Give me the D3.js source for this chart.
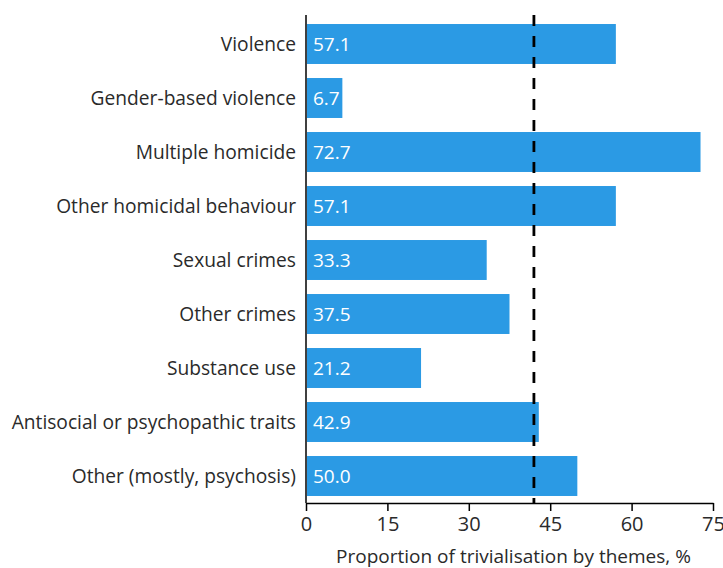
<!DOCTYPE html>
<html><head><meta charset="utf-8">
<script src="https://cdn.jsdelivr.net/npm/d3@7"></script>
<style>body{margin:0;background:#fff}svg{display:block}</style>
</head><body><svg id="c" width="723" height="568"></svg>
<script>
const categories = ["Violence","Gender-based violence","Multiple homicide","Other homicidal behaviour","Sexual crimes","Other crimes","Substance use","Antisocial or psychopathic traits","Other (mostly, psychosis)"];
const values = [57.1, 6.7, 72.7, 57.1, 33.3, 37.5, 21.2, 42.9, 50.0];
const referenceValue = 42.0;
const xTicks = [0, 15, 30, 45, 60, 75];
const xTitle = "Proportion of trivialisation by themes, %";

(function(){
const svg = d3.select("#c");
const font = "'Open Sans', sans-serif";
const mLeft = 306, mRight = 713, mTop = 17, mBottom = 503;
const x = d3.scaleLinear().domain([0, 75]).range([mLeft, mRight]);
const y = d3.scaleBand().domain(categories).range([mTop, mBottom]).paddingInner(0.26).paddingOuter(0.13);

svg.selectAll("rect.bar").data(values).join("rect")
  .attr("class","bar")
  .attr("x", x(0)+1).attr("y", (d,i)=>y(categories[i]))
  .attr("width", d=>x(d)-x(0)-1).attr("height", y.bandwidth())
  .attr("fill", "#2b9ae4");

svg.selectAll("text.val").data(values).join("text")
  .attr("class","val")
  .attr("x", x(0)+7).attr("y", (d,i)=>y(categories[i])+y.bandwidth()/2)
  .attr("dy","0.36em").attr("fill","#fff")
  .style("font-family",font).style("font-size","19px")
  .text(d=>d.toFixed(1));

svg.append("line").attr("x1",mLeft).attr("x2",mLeft).attr("y1",15).attr("y2",mBottom).attr("stroke","#000").attr("stroke-width",1.5);
svg.selectAll("text.cat").data(categories).join("text")
  .attr("class","cat")
  .attr("x", mLeft-10).attr("y", d=>y(d)+y.bandwidth()/2)
  .attr("dy","0.36em").attr("text-anchor","end").attr("fill","#2a2a2a")
  .style("font-family",font).style("font-size","19.2px")
  .text(d=>d);

const xAxis = svg.append("g").attr("transform",`translate(0,${mBottom})`)
  .call(d3.axisBottom(x).tickValues(xTicks).tickSize(8).tickSizeOuter(0).tickPadding(6));
xAxis.select(".domain").attr("stroke","#000").attr("stroke-width",1.5);
xAxis.selectAll(".tick line").attr("stroke","#000").attr("stroke-width",1.5);
xAxis.selectAll(".tick text").style("font-family",font).style("font-size","20px").attr("fill","#2a2a2a");

svg.append("text").attr("x",(mLeft+mRight)/2+4).attr("y",563).attr("text-anchor","middle")
  .attr("fill","#2a2a2a").style("font-family",font).style("font-size","19px").text(xTitle);

svg.append("line").attr("x1",x(referenceValue)).attr("x2",x(referenceValue))
  .attr("y1",15).attr("y2",mBottom).attr("stroke","#000").attr("stroke-width",2.8)
  .attr("stroke-dasharray","11,10");
})();
</script></body></html>
